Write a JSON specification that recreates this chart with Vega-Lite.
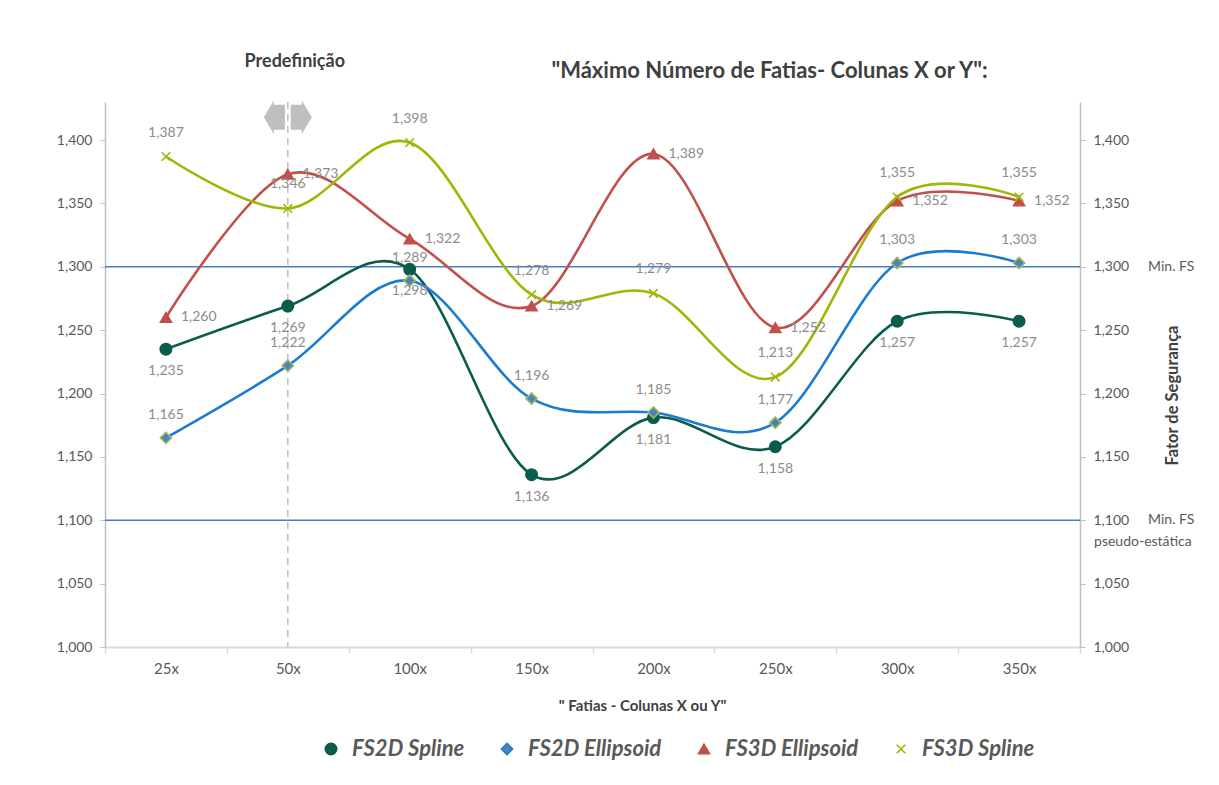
{
  "$schema": "https://vega.github.io/schema/vega-lite/v6.json",
  "width": 975,
  "height": 545,
  "autosize": "none",
  "padding": {"left": 105, "top": 102, "right": 139, "bottom": 138},
  "background": "white",
  "config": {
    "locale": {"number": {"decimal": ",", "thousands": ".", "grouping": [3], "currency": ["", ""]}},
    "font": "Lato",
    "view": {"stroke": null}
  },
  "title": {
    "text": "\"Máximo Número de Fatias- Colunas X or Y\":",
    "fontSize": 22,
    "fontWeight": "bold",
    "color": "#404040",
    "anchor": "middle",
    "frame": "group",
    "dx": 177,
    "offset": -30
  },
  "datasets": {
    "fs": [
      {"x": "25x", "series": "FS2D Spline", "value": 1.235},
      {"x": "50x", "series": "FS2D Spline", "value": 1.269},
      {"x": "100x", "series": "FS2D Spline", "value": 1.298},
      {"x": "150x", "series": "FS2D Spline", "value": 1.136},
      {"x": "200x", "series": "FS2D Spline", "value": 1.181},
      {"x": "250x", "series": "FS2D Spline", "value": 1.158},
      {"x": "300x", "series": "FS2D Spline", "value": 1.257},
      {"x": "350x", "series": "FS2D Spline", "value": 1.257},
      {"x": "25x", "series": "FS2D Ellipsoid", "value": 1.165},
      {"x": "50x", "series": "FS2D Ellipsoid", "value": 1.222},
      {"x": "100x", "series": "FS2D Ellipsoid", "value": 1.289},
      {"x": "150x", "series": "FS2D Ellipsoid", "value": 1.196},
      {"x": "200x", "series": "FS2D Ellipsoid", "value": 1.185},
      {"x": "250x", "series": "FS2D Ellipsoid", "value": 1.177},
      {"x": "300x", "series": "FS2D Ellipsoid", "value": 1.303},
      {"x": "350x", "series": "FS2D Ellipsoid", "value": 1.303},
      {"x": "25x", "series": "FS3D Ellipsoid", "value": 1.260},
      {"x": "50x", "series": "FS3D Ellipsoid", "value": 1.373},
      {"x": "100x", "series": "FS3D Ellipsoid", "value": 1.322},
      {"x": "150x", "series": "FS3D Ellipsoid", "value": 1.269},
      {"x": "200x", "series": "FS3D Ellipsoid", "value": 1.389},
      {"x": "250x", "series": "FS3D Ellipsoid", "value": 1.252},
      {"x": "300x", "series": "FS3D Ellipsoid", "value": 1.352},
      {"x": "350x", "series": "FS3D Ellipsoid", "value": 1.352},
      {"x": "25x", "series": "FS3D Spline", "value": 1.387},
      {"x": "50x", "series": "FS3D Spline", "value": 1.346},
      {"x": "100x", "series": "FS3D Spline", "value": 1.398},
      {"x": "150x", "series": "FS3D Spline", "value": 1.278},
      {"x": "200x", "series": "FS3D Spline", "value": 1.279},
      {"x": "250x", "series": "FS3D Spline", "value": 1.213},
      {"x": "300x", "series": "FS3D Spline", "value": 1.355},
      {"x": "350x", "series": "FS3D Spline", "value": 1.355}
    ],
    "limits": [
      {"x": "350x", "y": 1.3, "label": "Min. FS"},
      {"x": "350x", "y": 1.1, "label": "Min. FS"}
    ],
    "pseudo": [{"x": "350x", "y": 1.1, "label": "pseudo-estática"}],
    "preset": [{"x": "50x", "y": 1.43, "arrowY": 1.418, "label": "Predefinição"}]
  },
  "resolve": {"axis": {"y": "independent"}},
  "layer": [
    {
      "data": {"name": "limits"},
      "mark": {"type": "rule", "color": "#4A7CC4", "strokeWidth": 1.3},
      "encoding": {
        "y": {"field": "y", "type": "quantitative", "scale": {"domain": [1.0, 1.43], "nice": false, "zero": false}, "axis": null}
      }
    },
    {
      "data": {"name": "fs"},
      "mark": {"type": "line", "interpolate": "cardinal", "tension": 0, "strokeWidth": 2.6},
      "encoding": {
        "x": {
          "field": "x", "type": "nominal",
          "scale": {"domain": ["25x", "50x", "100x", "150x", "200x", "250x", "300x", "350x"], "paddingInner": 0, "paddingOuter": 0},
          "axis": {
            "tickBand": "extent", "labelAngle": 0, "labelFontSize": 15, "labelColor": "#595959",
            "domainColor": "#D9D9D9", "domainWidth": 2, "tickColor": "#D9D9D9", "tickWidth": 1.5, "tickSize": 6, "labelPadding": 8,
            "title": "\" Fatias - Colunas X ou Y\"", "titleFontSize": 15, "titleFontWeight": "bold", "titleColor": "#404040", "titlePadding": 22, "titleX": 537
          }
        },
        "y": {
          "field": "value", "type": "quantitative",
          "scale": {"domain": [1.0, 1.43], "nice": false, "zero": false},
          "axis": {
            "orient": "left", "values": [1.0, 1.05, 1.1, 1.15, 1.2, 1.25, 1.3, 1.35, 1.4], "format": ".3f",
            "labelFontSize": 14, "labelColor": "#595959", "domainColor": "#BFBFBF", "domainWidth": 1.5,
            "tickColor": "#BFBFBF", "tickSize": 5, "labelPadding": 8, "grid": false, "title": null
          }
        },
        "color": {
          "field": "series", "type": "nominal",
          "scale": {"domain": ["FS2D Spline", "FS2D Ellipsoid", "FS3D Ellipsoid", "FS3D Spline"], "range": ["#0B5C4C", "#1A7BD0", "#C0504D", "#A4B50A"]},
          "legend": {
            "orient": "none", "legendX": 215, "legendY": 636, "direction": "horizontal", "title": null,
            "labelFontSize": 22, "labelFontStyle": "italic", "labelFontWeight": "bold", "labelColor": "#595959",
            "labelOffset": 10, "columnPadding": 31, "symbolStrokeWidth": 1.6
          }
        },
        "detail": {"field": "series"}
      }
    },
    {
      "data": {"name": "preset"},
      "mark": {"type": "rule", "color": "#BFBFBF", "strokeWidth": 1.5, "strokeDash": [7, 5]},
      "encoding": {
        "x": {"field": "x", "type": "nominal"}
      }
    },
    {
      "data": {"name": "preset"},
      "mark": {
        "type": "point",
        "filled": true,
        "fill": "#BFBFBF",
        "opacity": 1,
        "size": 2304,
        "shape": "M-1,0L-0.58,-0.71L-0.58,-0.52L-0.12,-0.52L-0.12,0.52L-0.58,0.52L-0.58,0.71Z M1,0L0.58,-0.71L0.58,-0.52L0.12,-0.52L0.12,0.52L0.58,0.52L0.58,0.71Z"
      },
      "encoding": {
        "x": {"field": "x", "type": "nominal"},
        "y": {"field": "arrowY", "type": "quantitative", "scale": {"domain": [1.0, 1.43], "nice": false, "zero": false}, "axis": null}
      }
    },
    {
      "data": {"name": "preset"},
      "mark": {"type": "text", "fontSize": 18, "fontWeight": "bold", "color": "#404040", "dy": -40, "dx": 7, "baseline": "middle"},
      "encoding": {
        "x": {"field": "x", "type": "nominal"},
        "y": {"field": "y", "type": "quantitative", "scale": {"domain": [1.0, 1.43], "nice": false, "zero": false}, "axis": null},
        "text": {"field": "label"}
      }
    },
    {
      "data": {"name": "fs"},
      "mark": {"type": "point", "filled": true, "opacity": 1, "strokeWidth": 1.6},
      "encoding": {
        "x": {"field": "x", "type": "nominal"},
        "y": {
          "field": "value", "type": "quantitative",
          "scale": {"domain": [1.0, 1.43], "nice": false, "zero": false},
          "axis": {
            "orient": "right", "values": [1.0, 1.05, 1.1, 1.15, 1.2, 1.25, 1.3, 1.35, 1.4], "format": ".3f",
            "labelFontSize": 14, "labelColor": "#595959", "domainColor": "#BFBFBF", "domainWidth": 1.5,
            "tickColor": "#BFBFBF", "tickSize": 5, "labelPadding": 8, "grid": false,
            "title": "Fator de Segurança", "titleFontSize": 16.5, "titleFontWeight": "bold", "titleColor": "#404040",
            "titleAngle": 270, "titlePadding": 52, "titleY": 293
          }
        },
        "fill": {
          "field": "series", "type": "nominal",
          "scale": {"domain": ["FS2D Spline", "FS2D Ellipsoid", "FS3D Ellipsoid", "FS3D Spline"], "range": ["#0B5C4C", "#4F81BD", "#C0504D", "#A4B50A"]}
        },
        "stroke": {
          "field": "series", "type": "nominal",
          "scale": {"domain": ["FS2D Spline", "FS2D Ellipsoid", "FS3D Ellipsoid", "FS3D Spline"], "range": ["#0B5C4C", "#9BBB59", "#C0504D", "#A4B50A"]}
        },
        "shape": {
          "field": "series", "type": "nominal",
          "scale": {"domain": ["FS2D Spline", "FS2D Ellipsoid", "FS3D Ellipsoid", "FS3D Spline"], "range": ["circle", "diamond", "triangle-up", "M-0.8,-0.8L0.8,0.8M-0.8,0.8L0.8,-0.8"]}
        },
        "size": {
          "field": "series", "type": "nominal",
          "scale": {"domain": ["FS2D Spline", "FS2D Ellipsoid", "FS3D Ellipsoid", "FS3D Spline"], "range": [130, 115, 190, 140]}
        }
      }
    },
    {
      "data": {"name": "fs"},
      "transform": [{"filter": "datum.series === 'FS2D Spline'"}],
      "mark": {"type": "text", "fontSize": 14, "color": "#8C8C8C", "dy": 22, "baseline": "middle"},
      "encoding": {
        "x": {"field": "x", "type": "nominal"},
        "y": {"field": "value", "type": "quantitative", "scale": {"domain": [1.0, 1.43], "nice": false, "zero": false}, "axis": null},
        "text": {"field": "value", "type": "quantitative", "format": ".3f"}
      }
    },
    {
      "data": {"name": "fs"},
      "transform": [{"filter": "datum.series === 'FS2D Ellipsoid'"}],
      "mark": {"type": "text", "fontSize": 14, "color": "#8C8C8C", "dy": -23, "baseline": "middle"},
      "encoding": {
        "x": {"field": "x", "type": "nominal"},
        "y": {"field": "value", "type": "quantitative", "scale": {"domain": [1.0, 1.43], "nice": false, "zero": false}, "axis": null},
        "text": {"field": "value", "type": "quantitative", "format": ".3f"}
      }
    },
    {
      "data": {"name": "fs"},
      "transform": [{"filter": "datum.series === 'FS3D Ellipsoid'"}],
      "mark": {"type": "text", "fontSize": 14, "color": "#8C8C8C", "dx": 15, "align": "left", "baseline": "middle"},
      "encoding": {
        "x": {"field": "x", "type": "nominal"},
        "y": {"field": "value", "type": "quantitative", "scale": {"domain": [1.0, 1.43], "nice": false, "zero": false}, "axis": null},
        "text": {"field": "value", "type": "quantitative", "format": ".3f"}
      }
    },
    {
      "data": {"name": "fs"},
      "transform": [{"filter": "datum.series === 'FS3D Spline'"}],
      "mark": {"type": "text", "fontSize": 14, "color": "#8C8C8C", "dy": -24, "baseline": "middle"},
      "encoding": {
        "x": {"field": "x", "type": "nominal"},
        "y": {"field": "value", "type": "quantitative", "scale": {"domain": [1.0, 1.43], "nice": false, "zero": false}, "axis": null},
        "text": {"field": "value", "type": "quantitative", "format": ".3f"}
      }
    },
    {
      "data": {"name": "limits"},
      "mark": {"type": "text", "fontSize": 14, "color": "#595959", "dx": 129, "align": "left", "baseline": "middle"},
      "encoding": {
        "x": {"field": "x", "type": "nominal"},
        "y": {"field": "y", "type": "quantitative", "scale": {"domain": [1.0, 1.43], "nice": false, "zero": false}, "axis": null},
        "text": {"field": "label"}
      }
    },
    {
      "data": {"name": "pseudo"},
      "mark": {"type": "text", "fontSize": 14, "color": "#595959", "dx": 75, "dy": 22, "align": "left", "baseline": "middle"},
      "encoding": {
        "x": {"field": "x", "type": "nominal"},
        "y": {"field": "y", "type": "quantitative", "scale": {"domain": [1.0, 1.43], "nice": false, "zero": false}, "axis": null},
        "text": {"field": "label"}
      }
    }
  ]
}
